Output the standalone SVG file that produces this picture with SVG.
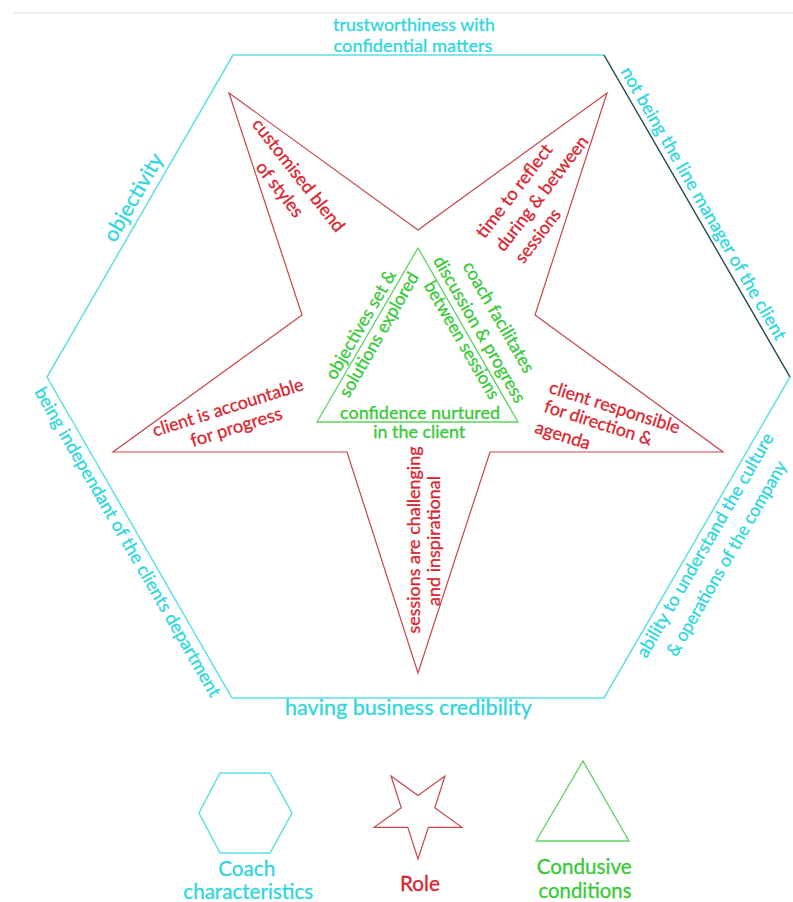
<svg xmlns="http://www.w3.org/2000/svg" width="793" height="902" viewBox="0 0 793 902">
<style>
text{font-family:Lato,"Open Sans","Liberation Sans",sans-serif;font-size:18px;stroke-width:0.3}
.c{fill:#2fd6de;stroke:#2fd6de}
.r{fill:#d8242e;stroke:#d8242e}
.g{fill:#38c938;stroke:#38c938}
.m{text-anchor:middle}
.hex{fill:none;stroke:#5ee0e6;stroke-width:1.5}
.star{fill:none;stroke:#c8464b;stroke-width:1.2}
.tri{fill:none;stroke:#5fd35f;stroke-width:1.3}
.big{font-size:20.7px}
</style>
<rect width="793" height="902" fill="#fff"/>
<line x1="13" y1="13" x2="793" y2="13" stroke="#e8e8e8" stroke-width="1.5"/>

<g id="hexagon">
<polygon class="hex" points="233,55 604,55 790,377 604,698 232,698 47,377"/>
<line x1="604" y1="55" x2="790" y2="377" stroke="#3c3c3c" stroke-width="1.2"/>
</g>
<g id="star">
<polygon class="star" points="229,93 418,230 607,93 535,315 723,452 490,452 418,673 347,452 113,452 302,315"/>
</g>
<g id="triangle">
<polygon class="tri" points="418,248 518,422 317,422"/>
</g>

<g id="coach-labels">
<text class="c m" x="414" y="31" textLength="162" lengthAdjust="spacingAndGlyphs">trustworthiness with</text>
<text class="c m" x="413" y="52" textLength="159" lengthAdjust="spacingAndGlyphs">confidential matters</text>
<text class="c m" x="408.5" y="715" textLength="247" lengthAdjust="spacingAndGlyphs" style="font-size:21px">having business credibility</text>
<text class="c m" style="font-size:21px" transform="translate(139.5,201) rotate(-60)" textLength="98" lengthAdjust="spacingAndGlyphs">objectivity</text>
<text class="c m" transform="translate(698.2,206.5) rotate(60)" textLength="312" lengthAdjust="spacingAndGlyphs">not being the line manager of the client</text>
<text class="c m" transform="translate(122.4,545) rotate(60)" textLength="354" lengthAdjust="spacingAndGlyphs">being independant of the clients department</text>
<text class="c m" transform="translate(710.3,548.2) rotate(-60)" textLength="256" lengthAdjust="spacingAndGlyphs">ability to understand the culture</text>
<text class="c m" transform="translate(731.8,561.5) rotate(-60)" textLength="222" lengthAdjust="spacingAndGlyphs">&amp; operations of the company</text>
</g>

<g id="role-labels">
<text class="r m" transform="translate(293.8,178.9) rotate(52)" textLength="138" lengthAdjust="spacingAndGlyphs">customised blend</text>
<text class="r m" transform="translate(275,193.2) rotate(52)" textLength="65" lengthAdjust="spacingAndGlyphs">of styles</text>
<text class="r" transform="translate(484.6,239.4) rotate(-52.5)" textLength="113" lengthAdjust="spacingAndGlyphs">time to reflect</text>
<text class="r" transform="translate(504,252.6) rotate(-52.5)" textLength="140" lengthAdjust="spacingAndGlyphs">during &amp; between</text>
<text class="r" transform="translate(523.6,264.4) rotate(-52.5)" textLength="63" lengthAdjust="spacingAndGlyphs">sessions</text>
<text class="r m" transform="translate(229.7,413.2) rotate(-17.5)" textLength="157" lengthAdjust="spacingAndGlyphs">client is accountable</text>
<text class="r m" transform="translate(238.1,432.8) rotate(-17.5)" textLength="95" lengthAdjust="spacingAndGlyphs">for progress</text>
<text class="r" transform="translate(548.1,392.6) rotate(17.6)" textLength="136" lengthAdjust="spacingAndGlyphs">client responsible</text>
<text class="r" transform="translate(543.1,411.6) rotate(17.6)" textLength="112" lengthAdjust="spacingAndGlyphs">for direction &amp;</text>
<text class="r" transform="translate(533.8,432.6) rotate(17.6)" textLength="57" lengthAdjust="spacingAndGlyphs">agenda</text>
<text class="r m" transform="translate(419.5,540) rotate(-90)" textLength="187" lengthAdjust="spacingAndGlyphs">sessions are challenging</text>
<text class="r m" transform="translate(439.5,541) rotate(-90)" textLength="130" lengthAdjust="spacingAndGlyphs">and inspirational</text>
</g>

<g id="condition-labels">
<text class="g m" transform="translate(366.1,327.7) rotate(-60)" textLength="123" lengthAdjust="spacingAndGlyphs">objectives set &amp;</text>
<text class="g m" transform="translate(384.1,337.7) rotate(-60)" textLength="141" lengthAdjust="spacingAndGlyphs">solutions explored</text>
<text class="g m" transform="translate(493.4,320.2) rotate(60)" textLength="125" lengthAdjust="spacingAndGlyphs">coach facilitates</text>
<text class="g m" transform="translate(474.2,332.4) rotate(60)" textLength="166" lengthAdjust="spacingAndGlyphs">discussion &amp; progress</text>
<text class="g m" transform="translate(456.7,343.2) rotate(60)" textLength="133" lengthAdjust="spacingAndGlyphs">between sessions</text>
<text class="g m" x="420" y="418.5" textLength="160" lengthAdjust="spacingAndGlyphs">confidence nurtured</text>
<text class="g m" x="419.2" y="438.3" textLength="92" lengthAdjust="spacingAndGlyphs">in the client</text>
</g>

<g id="legend-coach">
<polygon class="hex" points="220,773 270,773 292,813 270,853 220,853 199,813"/>
<text class="c m big" x="246.7" y="875.5" textLength="57" lengthAdjust="spacingAndGlyphs">Coach</text>
<text class="c m big" x="248.3" y="899" textLength="130" lengthAdjust="spacingAndGlyphs">characteristics</text>
</g>
<g id="legend-role">
<polygon class="star" points="391,776 418,795.6 445,776 434.8,807.8 461.9,827.3 428.4,827.3 418,859 407.8,827.3 374.1,827.3 401.3,807.8"/>
<text class="r m big" x="420" y="890.7" textLength="40" lengthAdjust="spacingAndGlyphs">Role</text>
</g>
<g id="legend-conditions">
<polygon class="tri" points="583,761 629,841 536,841"/>
<text class="g m big" x="584.2" y="874" textLength="95" lengthAdjust="spacingAndGlyphs">Condusive</text>
<text class="g m big" x="585" y="898" textLength="93" lengthAdjust="spacingAndGlyphs">conditions</text>
</g>
</svg>
